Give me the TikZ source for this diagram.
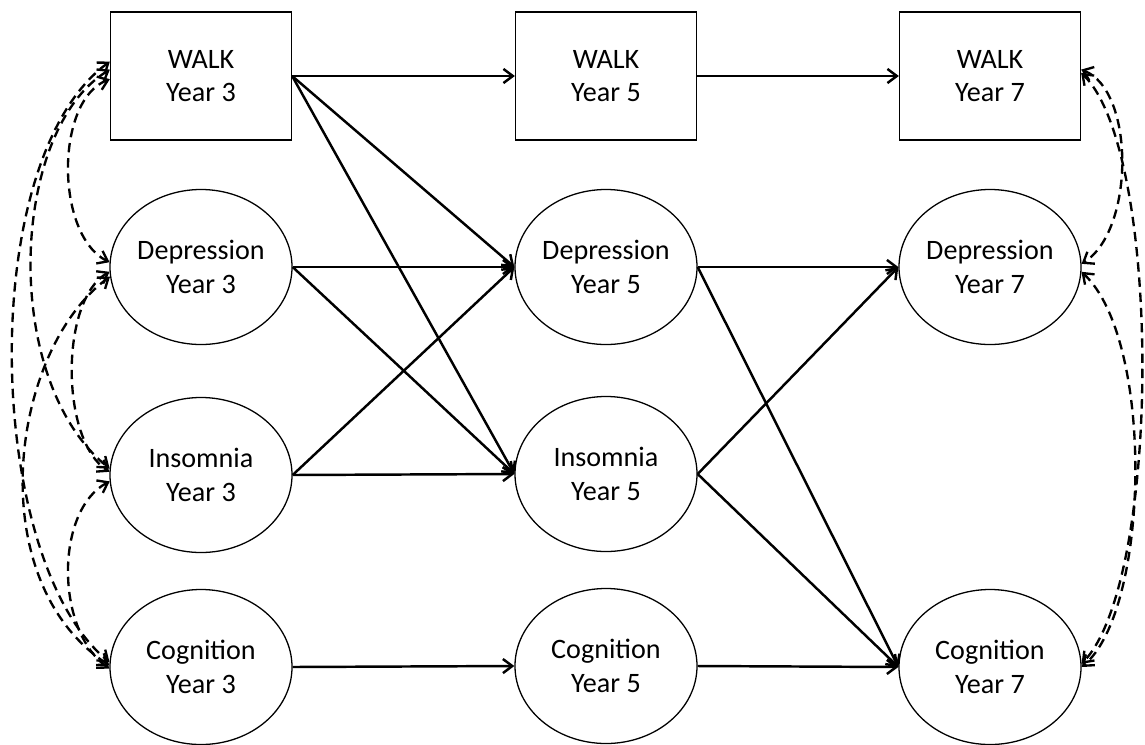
\documentclass[tikz,border=0pt]{standalone}
\usepackage{fontspec}
\setmainfont{Carlito}
\usetikzlibrary{arrows.meta,shapes.geometric}
\begin{document}
\begin{tikzpicture}[x=0.03cm,y=-0.03cm,
  vnode/.style={font=\fontsize{24}{28.5}\selectfont, align=center, draw, line width=1.1pt, inner sep=0pt, fill=white},
  boxnode/.style={vnode, rectangle, minimum width=5.43cm, minimum height=3.84cm},
  ellnode/.style={vnode, ellipse, minimum width=5.46cm, minimum height=4.65cm},
  solidarrow/.style={line width=2.1pt, -{Straight Barb[length=8pt,width=12pt]}},
  covar/.style={line width=2pt, dash pattern=on 8pt off 5pt, {Straight Barb[length=8pt,width=12pt]}-{Straight Barb[length=8pt,width=12pt]}}
]
\fill[white] (0,0) rectangle (1145,744);
\useasboundingbox (0,0) rectangle (1145,744);

\node[boxnode] (W3) at (201,76) {WALK\\Year 3};
\node[boxnode] (W5) at (606,76) {WALK\\Year 5};
\node[boxnode] (W7) at (990,76) {WALK\\Year 7};
\node[ellnode] (D3) at (201,267) {Depression\\Year 3};
\node[ellnode] (D5) at (606,267) {Depression\\Year 5};
\node[ellnode] (D7) at (990,267) {Depression\\Year 7};
\node[ellnode] (I3) at (201,475) {Insomnia\\Year 3};
\node[ellnode] (I5) at (606,474) {Insomnia\\Year 5};
\node[ellnode] (C3) at (201,667) {Cognition\\Year 3};
\node[ellnode] (C5) at (606,666) {Cognition\\Year 5};
\node[ellnode] (C7) at (990,667) {Cognition\\Year 7};

\draw[solidarrow] (W3.east) -- (W5.west);
\draw[solidarrow] (W5.east) -- (W7.west);
\draw[solidarrow] (W3.east) -- (D5.west);
\draw[solidarrow] (W3.east) -- (I5.west);
\draw[solidarrow] (D3.east) -- (D5.west);
\draw[solidarrow] (D3.east) -- (I5.west);
\draw[solidarrow] (I3.east) -- (D5.west);
\draw[solidarrow] (I3.east) -- (I5.west);
\draw[solidarrow] (C3.east) -- (C5.west);
\draw[solidarrow] (D5.east) -- (D7.west);
\draw[solidarrow] (D5.east) -- (C7.west);
\draw[solidarrow] (I5.east) -- (D7.west);
\draw[solidarrow] (I5.east) -- (C7.west);
\draw[solidarrow] (C5.east) -- (C7.west);

\draw[covar] (W3.171) .. controls (-25,160) and (-15,560) .. (C3.177);
\draw[covar] (W3.176) .. controls (10,130) and (0,380) .. (I3.176);
\draw[covar] (W3.182) .. controls (55,100) and (55,235) .. (D3.177);
\draw[covar] (D3.183) .. controls (60,300) and (60,440) .. (I3.178);
\draw[covar] (D3.186) .. controls (10,350) and (-20,580) .. (C3.179);
\draw[covar] (I3.184) .. controls (55,510) and (55,630) .. (C3.181);

\draw[covar] (W7.4) .. controls (1135,90) and (1135,230) .. (D7.2);
\draw[covar] (W7.2) .. controls (1162,150) and (1162,580) .. (C7.2);
\draw[covar] (D7.-3) .. controls (1155,340) and (1150,610) .. (C7.0);
\end{tikzpicture}
\end{document}
